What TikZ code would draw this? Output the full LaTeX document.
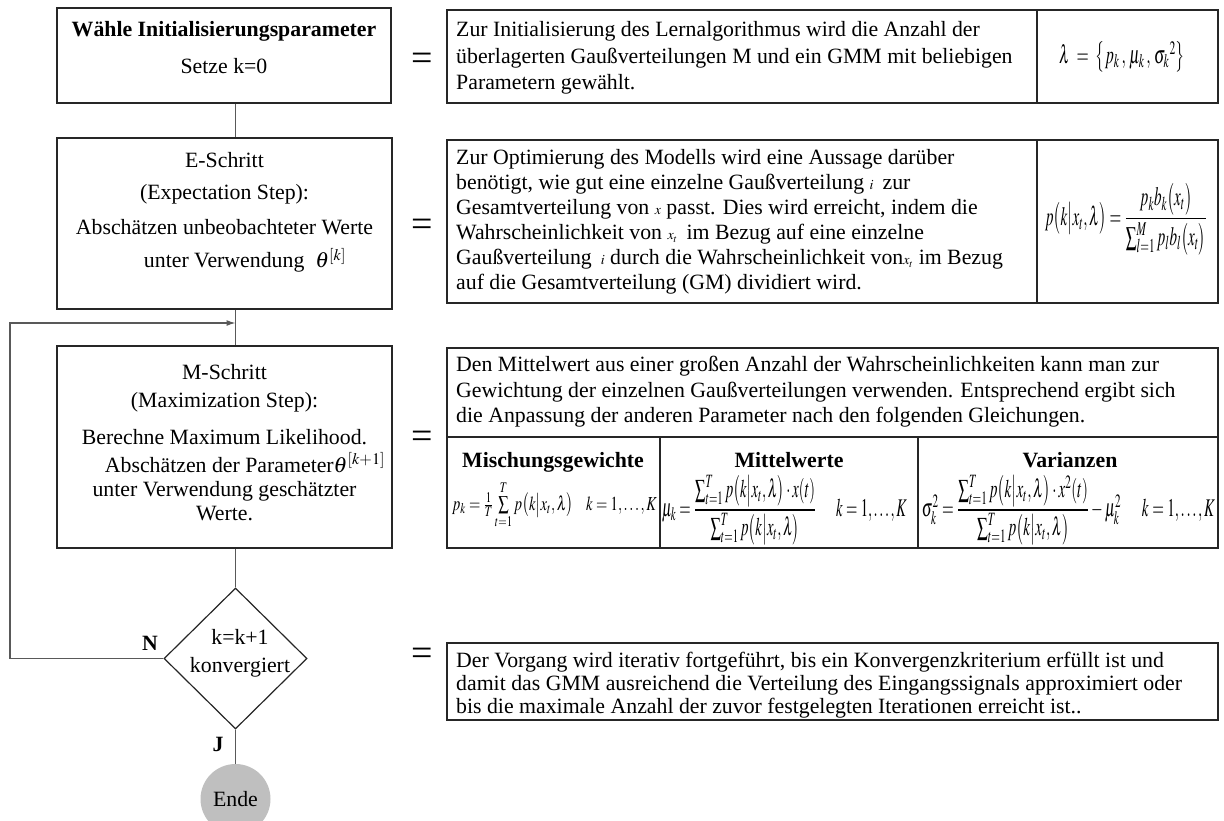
\documentclass[tikz,border=0pt]{standalone}
\usepackage{amsmath}
\usepackage{mathptmx}
\usepackage{fontspec}
\setmainfont{Liberation Serif}
\usepackage{graphicx}
\usetikzlibrary{shapes.geometric,arrows.meta}
\newcommand{\bodyfont}{\fontsize{21.8}{26}\selectfont}
\newcommand{\fmlfont}{\fontsize{16}{18}\selectfont}
\newcommand{\smallmath}[1]{{\fontsize{14}{14}\selectfont$#1$}}
\newcommand{\pk}{p\bigl(k\big|x_{t},\lambda\bigr)}
\begin{document}
\begin{tikzpicture}[x=1pt,y=-1pt,
  box/.style={draw=black!85, line width=1.2pt, inner sep=0pt},
  conn/.style={draw=black!65, line width=1.2pt},
  txt/.style={inner sep=0pt, anchor=base, font=\bodyfont},
  btxt/.style={inner sep=0pt, anchor=base, font=\bodyfont\bfseries},
  ltxt/.style={inner sep=0pt, anchor=base west, font=\bodyfont},
  eqsign/.style={inner sep=0pt, font=\fontsize{38}{38}\selectfont},
  fml/.style={inner sep=0pt, font=\fmlfont},
]
\useasboundingbox (0,0) rectangle (1224,821);

% ---------- left column ----------
\node[box, minimum width=334pt, minimum height=95pt] (b1) at (224,55.5) {};
\node[btxt] (b1t1) at (224,37) {Wähle Initialisierungsparameter};
\node[txt] (b1t2) at (224,74) {Setze k=0};

\node[box, minimum width=335pt, minimum height=171pt] (b2) at (224.5,223.5) {};
\node[txt] (b2t1) at (224.5,168) {E-Schritt};
\node[txt] (b2t2) at (224.5,200) {(Expectation Step):};
\node[txt] (b2t3) at (224.5,235) {Abschätzen unbeobachteter Werte};
\node[txt] (b2t4) at (245,268) {unter Verwendung \ $\theta^{[k]}$};

\node[box, minimum width=335pt, minimum height=202pt] (b3) at (224.5,447) {};
\node[txt] (b3t1) at (224.5,379) {M-Schritt};
\node[txt] (b3t2) at (224.5,407) {(Maximization Step):};
\node[txt] (b3t3) at (224.5,444) {Berechne Maximum Likelihood.};
\node[txt] (b3t4) at (245,472) {Abschätzen der Parameter$\theta^{[k+1]}$};
\node[txt] (b3t5) at (224.5,496) {unter Verwendung geschätzter};
\node[txt] (b3t6) at (224.5,520) {Werte.};

\node[box, draw=black!85, shape=diamond, minimum width=143pt, minimum height=141pt] (d) at (235.5,658.5) {};
\node[txt] (dt1) at (240,644) {k=k+1};
\node[txt] (dt2) at (240,672) {konvergiert};

\node[circle, fill=black!25, minimum size=70pt, inner sep=0pt, font=\bodyfont] (ende) at (235.5,799) {Ende};

\node[btxt] (nl) at (150,650) {N};
\node[btxt] (jl) at (218,751) {J};

\coordinate (m) at (235.5,323);
\coordinate (lp) at (10,658.5);

\draw[conn] (b1.south -| d.north) -- (b2.north -| d.north);
\draw[conn] (b2.south -| d.north) -- (b3.north -| d.north);
\draw[conn] (b3.south -| d.north) -- (d.north);
\draw[conn] (d.south) -- (ende.north);
\draw[conn, -{Latex[length=9pt,width=6pt]}] (d.west) -- (lp) |- (m);

% ---------- equals signs ----------
\node[eqsign] (e1) at (422,62) {=};
\node[eqsign] (e2) at (422,228) {=};
\node[eqsign] (e3) at (422,440) {=};
\node[eqsign] (e4) at (422,657) {=};

% ---------- right column ----------
\node[box, minimum width=590pt, minimum height=93pt] (r1) at (742,56.5) {};
\node[box, minimum width=181pt, minimum height=93pt] (f1) at (1127.5,56.5) {};
\node[ltxt] (r1t1) at (456,37) {Zur Initialisierung des Lernalgorithmus wird die Anzahl der};
\node[ltxt] (r1t2) at (456,64) {überlagerten Gaußverteilungen M und ein GMM mit beliebigen};
\node[ltxt] (r1t3) at (456,90) {Parametern gewählt.};
\node[fml] (f1m) at (1122,57) {\resizebox{126pt}{22pt}{$\lambda\;=\;\bigl\{p_{k}\,,\,\mu_{k}\,,\,\sigma_{k}{}^{2}\bigr\}$}};

\node[box, minimum width=590pt, minimum height=163pt] (r2) at (742,221.5) {};
\node[box, minimum width=181pt, minimum height=163pt] (f2) at (1127.5,221.5) {};
\node[ltxt] (r2t1) at (456,165) {Zur Optimierung des Modells wird eine Aussage darüber};
\node[ltxt] (r2t2) at (456,190) {benötigt, wie gut eine einzelne Gaußverteilung \smallmath{i}\, zur};
\node[ltxt] (r2t3) at (456,215) {Gesamtverteilung von \smallmath{x} passt. Dies wird erreicht, indem die};
\node[ltxt] (r2t4) at (456,240) {Wahrscheinlichkeit von \smallmath{x_t}\, im Bezug auf eine einzelne};
\node[ltxt] (r2t5) at (456,265) {Gaußverteilung \,\smallmath{i} durch die Wahrscheinlichkeit von\smallmath{x_t} im Bezug};
\node[ltxt] (r2t6) at (456,289) {auf die Gesamtverteilung (GM) dividiert wird.};
\node[fml] (f2m) at (1126,219) {\resizebox{162pt}{42pt}{$p\bigl(k\big|x_{t},\lambda\bigr)=\dfrac{p_k b_k\bigl(x_t\bigr)}{\sum\nolimits_{l=1}^{M} p_l b_l\bigl(x_t\bigr)}$}};

\node[box, minimum width=771pt, minimum height=200pt] (r3) at (832.5,448) {};
\coordinate (s3) at (447,437);
\draw[box] (s3) -- (s3 -| r3.east);
\coordinate (c1) at (660,437);
\coordinate (c2) at (918,437);
\draw[box] (c1) -- (c1 |- r3.south);
\draw[box] (c2) -- (c2 |- r3.south);
\node[ltxt] (r3t1) at (456,371) {Den Mittelwert aus einer großen Anzahl der Wahrscheinlichkeiten kann man zur};
\node[ltxt] (r3t2) at (456,397) {Gewichtung der einzelnen Gaußverteilungen verwenden. Entsprechend ergibt sich};
\node[ltxt] (r3t3) at (456,422) {die Anpassung der anderen Parameter nach den folgenden Gleichungen.};
\node[btxt] (h1) at (553,467) {Mischungsgewichte};
\node[btxt] (h2) at (789,467) {Mittelwerte};
\node[btxt] (h3) at (1070,467) {Varianzen};
\node[fml] (c1m) at (554.5,505) {\resizebox{205pt}{29pt}{$p_k=\tfrac{1}{T}\sum\limits_{t=1}^{T} \pk\hspace{14pt} k=1,\ldots,K$}};
\node[fml] (c2m) at (784.5,510) {\resizebox{245pt}{41pt}{$\mu_k=\dfrac{\sum\nolimits_{t=1}^{T} \pk\cdot x(t)}{\sum\nolimits_{t=1}^{T} \pk}\hspace{22pt}k=1,\ldots,K$}};
\node[fml] (c3m) at (1068.5,510) {\resizebox{293pt}{41pt}{$\sigma_k^2=\dfrac{\sum\nolimits_{t=1}^{T} \pk\cdot x^2(t)}{\sum\nolimits_{t=1}^{T} \pk}-\mu_k^2\hspace{22pt}k=1,\ldots,K$}};

\node[box, minimum width=771pt, minimum height=77pt] (r4) at (832.5,681.5) {};
\node[ltxt] (r4t1) at (456,667) {Der Vorgang wird iterativ fortgeführt, bis ein Konvergenzkriterium erfüllt ist und};
\node[ltxt] (r4t2) at (456,690) {damit das GMM ausreichend die Verteilung des Eingangssignals approximiert oder};
\node[ltxt] (r4t3) at (456,713) {bis die maximale Anzahl der zuvor festgelegten Iterationen erreicht ist..};
\end{tikzpicture}
\end{document}
